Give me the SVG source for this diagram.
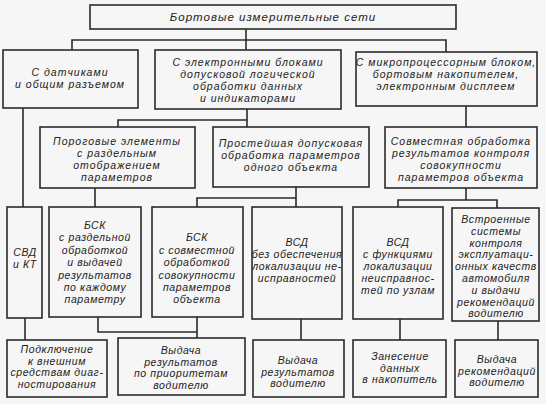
<svg xmlns="http://www.w3.org/2000/svg" width="546" height="404" viewBox="0 0 546 404">
<style>
.bg{fill:#f6f6f6}
.box{fill:#f6f6f6;stroke:#2b2b2b;stroke-width:1.6}
.ln{fill:none;stroke:#2b2b2b;stroke-width:1.6}
.t{font-family:"Liberation Sans",Arial,sans-serif;font-style:italic;font-size:10.5px;letter-spacing:1px;text-anchor:middle;fill:#222}
.s{font-size:10.5px;letter-spacing:0.6px}
.h{font-size:11.5px;letter-spacing:1px}
</style>
<rect class="bg" x="0" y="0" width="546" height="404"/>
<g id="connectors">
<path class="ln" d="M246,29 V50 M72,50 V40 H446 V52"/>
<path class="ln" d="M23,108 V207"/>
<path class="ln" d="M247,109 V127 M247,120 H118 V127"/>
<path class="ln" d="M466,106 V127"/>
<path class="ln" d="M95,188 V207"/>
<path class="ln" d="M296,187 V207 M296,198 H197 V207"/>
<path class="ln" d="M466,188 V200 M398,207 V200 H497 V208"/>
<path class="ln" d="M25,318 V340"/>
<path class="ln" d="M98,317 V332 H197 M197,317 V338"/>
<path class="ln" d="M301,319 V340"/>
<path class="ln" d="M400,319 V340"/>
<path class="ln" d="M498,321 V340"/>
</g>
<g id="n-root">
<rect class="box" x="90" y="5" width="366" height="24"/>
<text class="t h" x="273" y="21">Бортовые измерительные сети</text>
</g>
<g id="n-sensors">
<rect class="box" x="3" y="50" width="135" height="58"/>
<text class="t" x="70" y="76">С датчиками</text>
<text class="t" x="70" y="88">и общим разъемом</text>
</g>
<g id="n-electronic">
<rect class="box" x="155" y="50" width="186" height="59"/>
<text class="t" x="248" y="66">С электронными блоками</text>
<text class="t" x="248" y="78">допусковой логической</text>
<text class="t" x="248" y="90">обработки данных</text>
<text class="t" x="248" y="102">и индикаторами</text>
</g>
<g id="n-micro">
<rect class="box" x="356" y="52" width="181" height="54"/>
<text class="t" x="446" y="66">С микропроцессорным блоком,</text>
<text class="t" x="446" y="78">бортовым накопителем,</text>
<text class="t" x="446" y="90">электронным дисплеем</text>
</g>
<g id="n-threshold">
<rect class="box" x="40" y="127" width="155" height="61"/>
<text class="t" x="117" y="145">Пороговые элементы</text>
<text class="t" x="117" y="157">с раздельным</text>
<text class="t" x="117" y="169">отображением</text>
<text class="t" x="117" y="181">параметров</text>
</g>
<g id="n-simple">
<rect class="box" x="213" y="127" width="156" height="60"/>
<text class="t" x="291" y="147">Простейшая допусковая</text>
<text class="t" x="291" y="159">обработка параметров</text>
<text class="t" x="291" y="171">одного объекта</text>
</g>
<g id="n-joint">
<rect class="box" x="385" y="127" width="152" height="61"/>
<text class="t" x="461" y="145">Совместная обработка</text>
<text class="t" x="461" y="157">результатов контроля</text>
<text class="t" x="461" y="169">совокупности</text>
<text class="t" x="461" y="181">параметров объекта</text>
</g>
<g id="n-svd">
<rect class="box" x="7" y="207" width="35" height="111"/>
<text class="t s" x="25" y="256">СВД</text>
<text class="t s" x="25" y="268">и КТ</text>
</g>
<g id="n-bsk1">
<rect class="box" x="49" y="207" width="92" height="110"/>
<text class="t s" x="95" y="229">БСК</text>
<text class="t s" x="95" y="241.4">с раздельной</text>
<text class="t s" x="95" y="253.8">обработкой</text>
<text class="t s" x="95" y="266.2">и выдачей</text>
<text class="t s" x="95" y="278.6">результатов</text>
<text class="t s" x="95" y="291">по каждому</text>
<text class="t s" x="95" y="303.4">параметру</text>
</g>
<g id="n-bsk2">
<rect class="box" x="152" y="207" width="91" height="110"/>
<text class="t s" x="197" y="241.4">БСК</text>
<text class="t s" x="197" y="253.8">с совместной</text>
<text class="t s" x="197" y="266.2">обработкой</text>
<text class="t s" x="197" y="278.6">совокупности</text>
<text class="t s" x="197" y="291">параметров</text>
<text class="t s" x="197" y="303.4">объекта</text>
</g>
<g id="n-vsd1">
<rect class="box" x="252" y="207" width="90" height="112"/>
<text class="t s" x="297" y="246">ВСД</text>
<text class="t s" x="297" y="258">без обеспечения</text>
<text class="t s" x="297" y="270">локализации не-</text>
<text class="t s" x="297" y="282">исправностей</text>
</g>
<g id="n-vsd2">
<rect class="box" x="353" y="207" width="90" height="112"/>
<text class="t s" x="398" y="246">ВСД</text>
<text class="t s" x="398" y="258">с функциями</text>
<text class="t s" x="398" y="270">локализации</text>
<text class="t s" x="398" y="282">неисправнос-</text>
<text class="t s" x="398" y="294">тей по узлам</text>
</g>
<g id="n-builtin">
<rect class="box" x="452" y="208" width="87" height="113"/>
<text class="t s" x="496" y="223">Встроенные</text>
<text class="t s" x="496" y="234.8">системы</text>
<text class="t s" x="496" y="246.6">контроля</text>
<text class="t s" x="496" y="258.4">эксплуатаци-</text>
<text class="t s" x="496" y="270.2">онных качеств</text>
<text class="t s" x="496" y="282">автомобиля</text>
<text class="t s" x="496" y="293.8">и выдачи</text>
<text class="t s" x="496" y="305.6">рекомендаций</text>
<text class="t s" x="496" y="317.4">водителю</text>
</g>
<g id="n-connect">
<rect class="box" x="7" y="340" width="100" height="57"/>
<text class="t s" x="57" y="353">Подключение</text>
<text class="t s" x="57" y="364.5">к внешним</text>
<text class="t s" x="57" y="376">средствам диаг-</text>
<text class="t s" x="57" y="387.5">ностирования</text>
</g>
<g id="n-out-priority">
<rect class="box" x="118" y="338" width="127" height="57"/>
<text class="t s" x="181" y="354">Выдача</text>
<text class="t s" x="181" y="365.5">результатов</text>
<text class="t s" x="181" y="377">по приоритетам</text>
<text class="t s" x="181" y="388.5">водителю</text>
</g>
<g id="n-out-results">
<rect class="box" x="253" y="340" width="91" height="57"/>
<text class="t s" x="298" y="364">Выдача</text>
<text class="t s" x="298" y="375.5">результатов</text>
<text class="t s" x="298" y="387">водителю</text>
</g>
<g id="n-store">
<rect class="box" x="353" y="340" width="93" height="57"/>
<text class="t s" x="400" y="360">Занесение</text>
<text class="t s" x="400" y="371.5">данных</text>
<text class="t s" x="400" y="383">в накопитель</text>
</g>
<g id="n-out-recs">
<rect class="box" x="455" y="340" width="83" height="57"/>
<text class="t s" x="497" y="363">Выдача</text>
<text class="t s" x="497" y="374.5">рекомендаций</text>
<text class="t s" x="497" y="386">водителю</text>
</g>
</svg>
